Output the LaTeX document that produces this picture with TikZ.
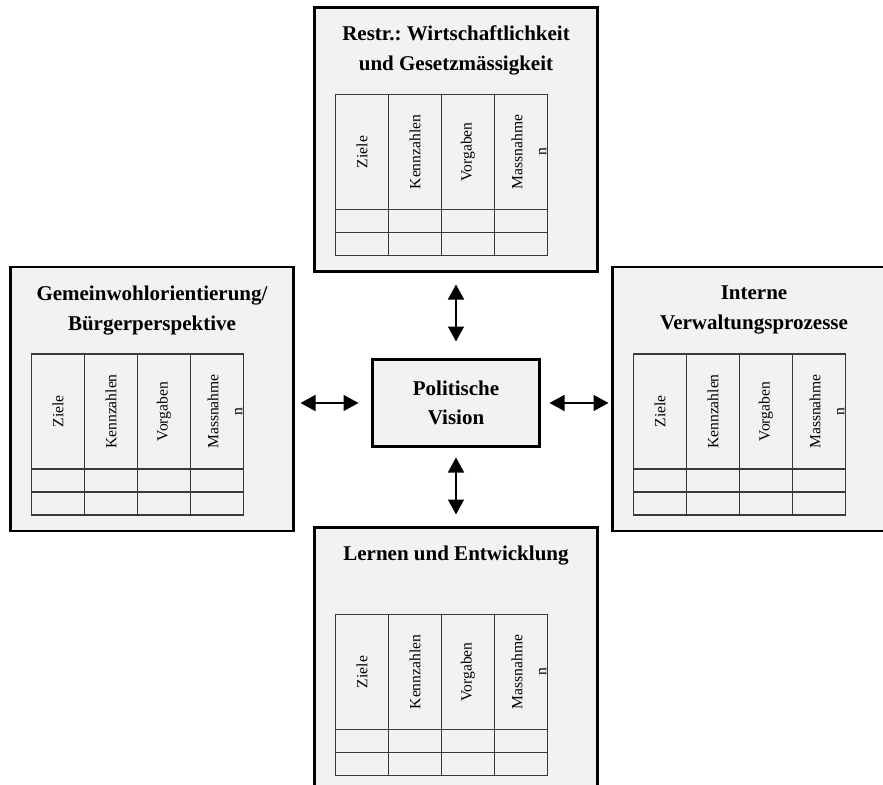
\documentclass[tikz,border=0pt]{standalone}
\usepackage{fontspec}
\setmainfont{Liberation Serif}
\frenchspacing
\usepackage{tikz}
\usetikzlibrary{arrows.meta,calc,positioning}
\definecolor{bsfill}{HTML}{F2F2F2}
\definecolor{bsline}{HTML}{3A3A3A}
\newcommand{\bsctable}[1]{%
  \begin{scope}[shift={($(#1.north west)+(21,87)$)}]
    \draw[tabline] (0,0) rectangle (212,161);
    \draw[tabline] (0,115) -- (212,115) (0,138) -- (212,138);
    \draw[tabline] (53,0) -- (53,161) (106,0) -- (106,161) (159,0) -- (159,161);
    \node[colhead] (#1-ziele) at (26.5,57.5) {Ziele};
    \node[colhead] (#1-kenn) at (79.5,57.5) {Kennzahlen};
    \node[colhead] (#1-vorg) at (132.5,57.5) {Vorgaben};
    \node[colhead] (#1-mass) at (193.5,57.5) {Massnahme\\n};
  \end{scope}}

\begin{document}
\begin{tikzpicture}[
  x=1pt, y=-1pt,
  panel/.style={draw, line width=2.6pt, fill=bsfill, minimum width=283pt, minimum height=264pt, outer sep=0pt},
  core/.style={draw, line width=2.6pt, fill=bsfill, minimum width=167pt, minimum height=87pt, outer sep=0pt, align=center, font=\fontsize{21}{29}\selectfont\bfseries},
  paneltitle/.style={align=center, font=\fontsize{21}{30}\selectfont\bfseries},
  colhead/.style={rotate=90, align=center, inner sep=0pt, font=\fontsize{15.6}{24}\selectfont},
  tabline/.style={draw=bsline, line width=1.2pt},
  link/.style={{Triangle[length=15pt,width=16pt]}-{Triangle[length=15pt,width=16pt]}, line width=1.5pt}
]
\useasboundingbox (0,0) rectangle (883,784);
\clip (0,0) rectangle (883,784);

\node[core] (vision) at (456,403) {Politische\\Vision};

\node[panel, above=88pt of vision] (restr) {};
\node[panel, left=79pt of vision, yshift=4pt] (buerger) {};
\node[panel, right=73pt of vision, yshift=4pt] (intern) {};
\node[panel, below=81pt of vision] (lernen) {};

\node[paneltitle, below=15pt of restr.north] (restr-title) {Restr.: Wirtschaftlichkeit\\und Gesetzmässigkeit};
\node[paneltitle, below=15pt of buerger.north] (buerger-title) {Gemeinwohlorientierung/\\Bürgerperspektive};
\node[paneltitle, below=15pt of intern.north] (intern-title) {Interne\\Verwaltungsprozesse};
\node[paneltitle, below=15pt of lernen.north] (lernen-title) {Lernen und Entwicklung};

\bsctable{restr}
\bsctable{buerger}
\bsctable{intern}
\bsctable{lernen}

\draw[link, shorten <=18pt, shorten >=13pt] (vision.north) -- (restr.south);
\draw[link, shorten <=14pt, shorten >=7pt] (vision.west) -- (vision.west -| buerger.east);
\draw[link, shorten <=10pt, shorten >=4pt] (vision.east) -- (vision.east -| intern.west);
\draw[link, shorten <=11pt, shorten >=13pt] (vision.south) -- (lernen.north);
\end{tikzpicture}
\end{document}
